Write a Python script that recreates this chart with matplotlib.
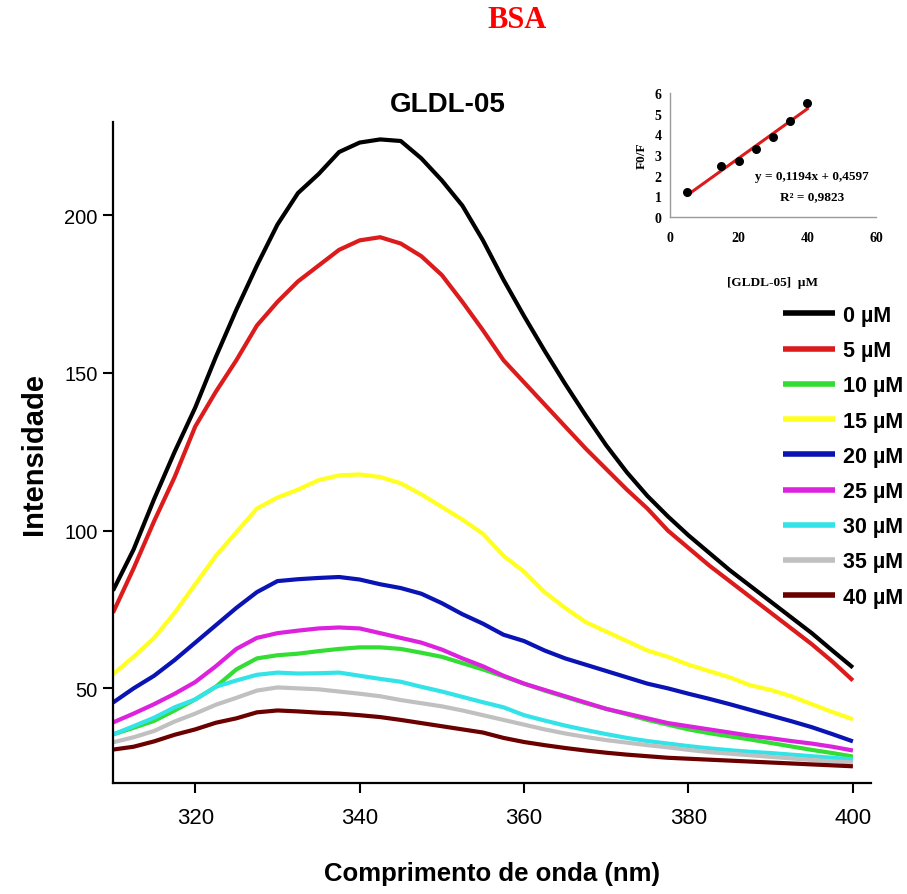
import matplotlib
matplotlib.use("Agg")
import matplotlib.pyplot as plt

# Emission wavelengths (nm)
wavelength = [310, 312.5, 315, 317.5, 320, 322.5, 325, 327.5, 330, 332.5,
              335, 337.5, 340, 342.5, 345, 347.5, 350, 352.5, 355, 357.5,
              360, 362.5, 365, 367.5, 370, 372.5, 375, 377.5, 380, 382.5,
              385, 387.5, 390, 392.5, 395, 397.5, 400]

# Fluorescence intensity for each GLDL-05 concentration
int_0 = [81, 94, 110, 125, 139, 155, 170, 184, 197, 207,
         213, 220, 223, 224, 223.5, 218, 211, 203, 192, 179.5,
         168, 157, 146.5, 136.5, 127, 118.5, 111, 104.5, 98.5, 93,
         87.5, 82.5, 77.5, 72.5, 67.5, 62, 56.6]
int_5 = [74, 88, 103, 117, 133, 144, 154, 165, 172.5, 179,
         184, 189, 192, 193, 191, 187, 181, 172.5, 163.5, 154,
         147, 140, 133, 126, 119.5, 113, 107, 100, 94.5, 89,
         84, 79, 74, 69, 64, 58.5, 52.5]
int_10 = [35.4, 37.5, 39.7, 43, 46.5, 50.5, 56, 59.5, 60.5, 61,
          61.8, 62.5, 63, 63, 62.5, 61.3, 60, 58, 56, 53.8,
          51.5, 49.3, 47.3, 45.3, 43.5, 41.8, 40, 38.5, 37, 35.8,
          34.8, 33.8, 32.7, 31.6, 30.5, 29.5, 28.4]
int_15 = [54.5, 60, 66, 74, 83, 92, 99.5, 107, 110.5, 113,
          116, 117.5, 117.8, 117, 115, 111.5, 107.5, 103.5, 99, 92,
          87, 80.5, 75.5, 71, 68, 65, 62, 60, 57.5, 55.5,
          53.5, 51, 49.5, 47.5, 45, 42.5, 40.2]
int_20 = [45.5, 50, 54, 59, 64.5, 70, 75.5, 80.5, 84, 84.6,
          85, 85.3, 84.5, 83, 81.8, 80, 77, 73.5, 70.5, 67,
          65, 62, 59.5, 57.5, 55.5, 53.5, 51.5, 50, 48.3, 46.7,
          45, 43.2, 41.4, 39.6, 37.7, 35.5, 33.2]
int_25 = [39.2, 42, 45, 48.3, 52, 57, 62.5, 66, 67.5, 68.3,
          69, 69.3, 69, 67.5, 66, 64.5, 62.3, 59.5, 57, 54,
          51.5, 49.5, 47.5, 45.5, 43.5, 42, 40.5, 39, 38, 37,
          36, 35, 34.2, 33.3, 32.5, 31.5, 30.3]
int_30 = [35.4, 38, 40.7, 44, 46.5, 50.5, 52.5, 54.3, 55, 54.7,
          54.8, 55, 54, 53, 52.1, 50.5, 49, 47.3, 45.6, 44,
          41.5, 39.8, 38.2, 36.8, 35.5, 34.3, 33.3, 32.5, 31.7, 31,
          30.4, 29.9, 29.5, 29, 28.5, 28, 27.5]
int_35 = [32.9, 34.5, 36.5, 39.5, 42, 44.8, 47, 49.3, 50.3, 50,
          49.7, 49, 48.3, 47.5, 46.3, 45.3, 44.3, 43, 41.5, 40,
          38.5, 37, 35.7, 34.6, 33.6, 32.8, 32, 31.3, 30.5, 29.8,
          29.3, 28.8, 28.3, 27.8, 27.3, 26.9, 26.5]
int_40 = [30.6, 31.5, 33.2, 35.3, 37, 39.1, 40.5, 42.4, 43, 42.7,
          42.3, 42, 41.5, 40.9, 40, 39, 38, 37, 36, 34.3,
          33, 32, 31.1, 30.3, 29.6, 29, 28.5, 28, 27.7, 27.4,
          27.1, 26.8, 26.5, 26.2, 25.9, 25.6, 25.3]

labels = ["0 µM", "5 µM", "10 µM", "15 µM", "20 µM",
          "25 µM", "30 µM", "35 µM", "40 µM"]
colors = ["#000000", "#dc1c1c", "#33dd33", "#ffff22", "#0a14b4",
          "#dd22dd", "#33e3e8", "#c0c0c0", "#6b0000"]

# Stern-Volmer inset data
conc = [5, 15, 20, 25, 30, 35, 40]
f0_f = [1.21, 2.47, 2.69, 3.27, 3.87, 4.67, 5.53]
slope, intercept = 0.1194, 0.4597
fit_x = [5, 40]

series = [int_0, int_5, int_10, int_15, int_20, int_25, int_30, int_35, int_40]

fig = plt.figure(figsize=(9.07, 8.95), dpi=100)
ax = fig.add_axes([0.1246, 0.124, 0.8357, 0.7385])

for y, c, lab in zip(series, colors, labels):
    ax.plot(wavelength, y, color=c, lw=3, label=lab, solid_capstyle="butt")

ax.set_xlim(310, 402.2)
ax.set_ylim(20, 229.5)
ax.set_xticks([320, 340, 360, 380, 400])
ax.set_yticks([50, 100, 150, 200])
for s in ["top", "right"]:
    ax.spines[s].set_visible(False)
for s in ["left", "bottom"]:
    ax.spines[s].set_linewidth(1.6)
ax.tick_params(direction="out", length=7, width=1.5, colors="black")
ax.tick_params(axis="x", pad=10)
ax.tick_params(axis="y", pad=4)
for t in ax.get_xticklabels():
    t.set_fontfamily("Liberation Sans")
    t.set_fontsize(16)
for t in ax.get_yticklabels():
    t.set_fontfamily("Liberation Sans")
    t.set_fontsize(14.5)

ax.set_xlabel("Comprimento de onda (nm)", fontsize=18.5, fontweight="bold",
              family="Liberation Sans", labelpad=24)
ax.set_ylabel("Intensidade", fontsize=21, fontweight="bold",
              family="Liberation Sans", labelpad=12)
fig.text(448 / 907, 1 - 105 / 895, "GLDL-05", fontsize=20, fontweight="bold",
         family="Liberation Sans", ha="center", va="center")

leg = fig.legend(loc="upper left", bbox_to_anchor=(783 / 907, 1 - 306 / 895),
                 frameon=False, borderpad=0, borderaxespad=0,
                 handlelength=2.4, handletextpad=0.4, labelspacing=0.66,
                 prop={"family": "Liberation Sans", "weight": "bold", "size": 15.5})
for line in leg.get_lines():
    line.set_linewidth(4)

fig.text(0.570, 0.977, "BSA", color="#ff0000", fontsize=22, fontweight="bold",
         family="Liberation Serif", ha="center", va="center")

# Inset: F0/F versus quencher concentration
ins = fig.add_axes([0.7387, 0.7564, 0.2271, 0.1385])
ins.plot(fit_x, [slope * v + intercept for v in fit_x], color="#dc1c1c", lw=2.2, zorder=2)
ins.scatter(conc, f0_f, s=30, color="black", zorder=3)
ins.set_xlim(0, 60)
ins.set_ylim(0, 6)
ins.set_xticks([0, 20, 40, 60])
ins.set_yticks([0, 1, 2, 3, 4, 5, 6])
for s in ["top", "right"]:
    ins.spines[s].set_visible(False)
for s in ["left", "bottom"]:
    ins.spines[s].set_color("#9a9a9a")
    ins.spines[s].set_linewidth(1.0)
ins.tick_params(length=0)
ins.tick_params(axis="x", pad=10)
ins.tick_params(axis="y", pad=6)
for t in ins.get_xticklabels() + ins.get_yticklabels():
    t.set_fontfamily("Liberation Serif")
    t.set_fontweight("bold")
    t.set_fontsize(10)
ins.set_ylabel("F0/F", fontsize=9.5, fontweight="bold", family="Liberation Serif", labelpad=5)
ins.set_xlabel("[GLDL-05]  µM", fontsize=9.5, fontweight="bold", family="Liberation Serif",
               labelpad=23)
ins.text(0.69, 0.33, "y = 0,1194x + 0,4597", transform=ins.transAxes, ha="center",
         va="center", fontsize=9.5, fontweight="bold", family="Liberation Serif")
ins.text(0.69, 0.17, "R² = 0,9823", transform=ins.transAxes, ha="center",
         va="center", fontsize=9.5, fontweight="bold", family="Liberation Serif")

fig.savefig("out.png", dpi=100, facecolor="white")
